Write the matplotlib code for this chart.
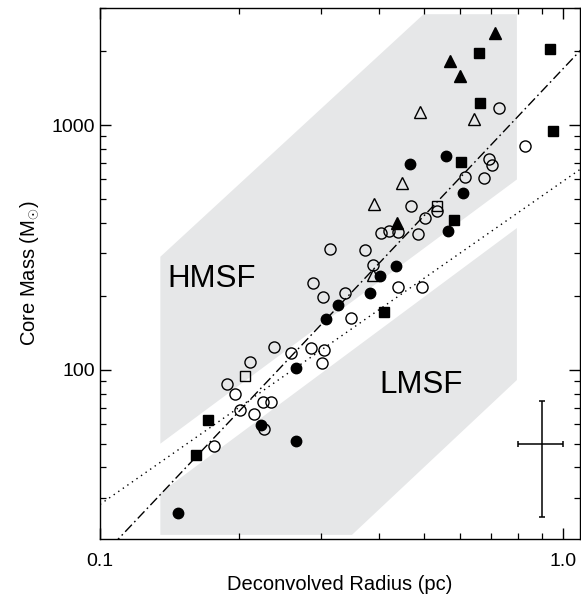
import matplotlib
matplotlib.use('Agg')
import matplotlib.pyplot as plt
import numpy as np

plt.rcParams['font.family'] = ['Liberation Sans', 'DejaVu Sans']
plt.rcParams['mathtext.fontset'] = 'custom'
plt.rcParams['mathtext.rm'] = 'Liberation Sans'

# core radius (pc) and mass (Msun)
open_circ_r = [0.176, 0.188, 0.196, 0.201, 0.211, 0.215, 0.225, 0.234, 0.226, 0.238,
               0.258, 0.286, 0.304, 0.302, 0.288, 0.303, 0.338, 0.348, 0.314, 0.373,
               0.388, 0.441, 0.497, 0.405, 0.420, 0.441, 0.487, 0.503, 0.470, 0.534,
               0.614, 0.675, 0.693, 0.701, 0.828, 0.728]
open_circ_m = [48.7, 87.7, 79.8, 68.7, 108, 66, 74.2, 74.2, 57.4, 124.5,
               117.7, 123, 120.7, 106.3, 227, 198, 206, 163, 312, 309,
               268, 219, 218, 361, 371, 367, 358, 417, 466, 447,
               615, 607, 726, 685, 825, 1170]

fill_circ_r = [0.1475, 0.223, 0.265, 0.265, 0.307, 0.327, 0.383, 0.4025, 0.436,
               0.468, 0.559, 0.564, 0.608]
fill_circ_m = [26.0, 59.5, 51.4, 102, 162, 185, 206, 243, 267,
               693, 747, 371, 526]

fill_sq_r = [0.161, 0.171, 0.411, 0.582, 0.602, 0.662, 0.659, 0.937, 0.950]
fill_sq_m = [45.1, 62.5, 173, 411, 706, 1232, 1973, 2039, 947]

open_sq_r = [0.206, 0.534]
open_sq_m = [94.5, 468]

fill_tri_r = [0.439, 0.570, 0.599, 0.713]
fill_tri_m = [400, 1825, 1585, 2385]

open_tri_r = [0.388, 0.391, 0.448, 0.491, 0.642]
open_tri_m = [245, 478, 578, 1130, 1058]

# shaded regions
hmsf_r = [0.135, 0.135, 0.50, 0.795, 0.795]
hmsf_m = [50, 290, 2840, 2840, 600]
lmsf_r = [0.135, 0.135, 0.35, 0.795, 0.795]
lmsf_m = [31.5, 21.2, 21.2, 91, 380]

# relations M = k * R^p
dashdot_k, dashdot_p = 1700, 2.0
dotted_k, dotted_p = 590, 1.32
line_r = np.array([0.1, 1.1])

# typical uncertainty
err_r, err_m = 0.9, 50
err_dr, err_dm = 0.1, 25

fig = plt.figure(figsize=(5.81, 5.94), dpi=100)
ax = fig.add_axes([100/581, 1 - 539/594, 480/581, 531/594])
ax.set_xscale('log')
ax.set_yscale('log')

gray = '#e6e7e8'
ax.fill(hmsf_r, hmsf_m, color=gray, lw=0, zorder=0)
ax.fill(lmsf_r, lmsf_m, color=gray, lw=0, zorder=0)

ax.plot(line_r, dashdot_k * line_r**dashdot_p, color='k', lw=1.0,
        dashes=(7, 2.5, 1.2, 2.5), zorder=1)
ax.plot(line_r, dotted_k * line_r**dotted_p, color='k', lw=1.0,
        dashes=(1, 3), zorder=1)

ms = 8
ax.plot(open_circ_r, open_circ_m, 'o', ms=ms, mfc='none', mec='k', mew=1.0, ls='none', zorder=3)
ax.plot(fill_circ_r, fill_circ_m, 'o', ms=7.5, mfc='k', mec='k', ls='none', zorder=3)
ax.plot(fill_sq_r, fill_sq_m, 's', ms=7.5, mfc='k', mec='k', ls='none', zorder=3)
ax.plot(open_sq_r, open_sq_m, 's', ms=7.5, mfc='none', mec='k', mew=1.0, ls='none', zorder=3)
ax.plot(fill_tri_r, fill_tri_m, '^', ms=8, mfc='k', mec='k', ls='none', zorder=3)
ax.plot(open_tri_r, open_tri_m, '^', ms=8.5, mfc='none', mec='k', mew=1.0, ls='none', zorder=3)

ax.errorbar(err_r, err_m, xerr=err_dr, yerr=err_dm, fmt='none', ecolor='k',
            elinewidth=1.1, capsize=2.5, capthick=1.1, zorder=3)

ax.text(0.140, 218, 'HMSF', fontsize=22.5, ha='left', va='baseline')
ax.text(0.4005, 80.5, 'LMSF', fontsize=22.5, ha='left', va='baseline')

ax.set_xlim(0.1, 1.088)
ax.set_ylim(20.4, 3010)

ax.set_xticks([0.1, 1.0])
ax.set_xticklabels(['0.1', '1.0'])
ax.set_xticks([0.2, 0.3, 0.4, 0.5, 0.6, 0.7, 0.8, 0.9], minor=True)
ax.set_yticks([100, 1000])
ax.set_yticklabels(['100', '1000'])
ax.set_yticks([30, 40, 50, 60, 70, 80, 90, 200, 300, 400, 500, 600, 700, 800, 900, 2000, 3000],
              minor=True)
ax.xaxis.set_minor_formatter(matplotlib.ticker.NullFormatter())
ax.yaxis.set_minor_formatter(matplotlib.ticker.NullFormatter())

ax.tick_params(which='both', direction='in', top=True, right=True, labelsize=14)
ax.tick_params(which='major', length=8, width=1.0)
ax.tick_params(which='minor', length=4.5, width=0.9)
ax.tick_params(axis='x', pad=10)
for s in ax.spines.values():
    s.set_linewidth(1.0)

ax.set_xlabel('Deconvolved Radius (pc)', fontsize=14.5, labelpad=4)
ax.set_ylabel(r'Core Mass (M$_{\odot}$)', fontsize=14.5, labelpad=8)

fig.savefig('out.png', dpi=100)
